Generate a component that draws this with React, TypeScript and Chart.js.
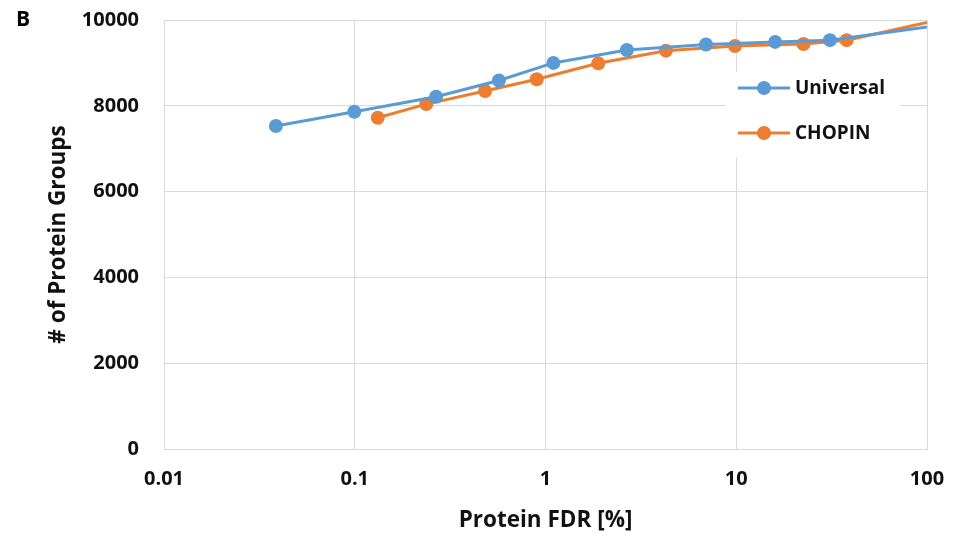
import React, { useEffect, useRef } from "react";
import { Chart, registerables } from "chart.js";

Chart.register(...registerables);

const universalFdr = [0.0386, 0.0995, 0.267, 0.57, 1.1, 2.67, 6.94, 16.0, 31.0, 100];
const universalCount = [7530, 7860, 8210, 8590, 9000, 9300, 9430, 9490, 9530, 9840];
const chopinFdr = [0.132, 0.237, 0.482, 0.9, 1.89, 4.28, 9.85, 22.5, 37.9, 100];
const chopinCount = [7720, 8040, 8345, 8620, 8990, 9285, 9395, 9440, 9530, 9940];
const xTicks = [0.01, 0.1, 1, 10, 100];
const xTickLabels = ["0.01", "0.1", "1", "10", "100"];
const seriesNames = ["Universal", "CHOPIN"];
const colors = ["#5b9bd5", "#ed7d31"];

const FONT = "'Open Sans', Lato, sans-serif";
const TEXT = "#111111";

const legendPlugin = {
  id: "insideLegend",
  afterDraw(chart: any) {
    const ctx = chart.ctx;
    ctx.save();
    ctx.fillStyle = "#ffffff";
    ctx.fillRect(725, 72, 175, 85);
    const rows = [88, 133];
    rows.forEach((y, i) => {
      ctx.strokeStyle = colors[i];
      ctx.lineWidth = 3;
      ctx.beginPath();
      ctx.moveTo(738, y);
      ctx.lineTo(790, y);
      ctx.stroke();
      ctx.fillStyle = colors[i];
      ctx.beginPath();
      ctx.arc(764, y, 7, 0, Math.PI * 2);
      ctx.fill();
      ctx.fillStyle = TEXT;
      ctx.font = `bold 19px ${FONT}`;
      ctx.textBaseline = "middle";
      ctx.textAlign = "left";
      ctx.fillText(seriesNames[i], 795, y + 1);
    });
    ctx.font = `bold 21px ${FONT}`;
    ctx.fillStyle = "#000";
    ctx.textBaseline = "middle";
    ctx.fillText("B", 16, 20);
    ctx.restore();
  },
};

export default function App() {
  const ref = useRef<HTMLCanvasElement>(null);
  useEffect(() => {
    document.body.style.margin = "0";
    const mk = (xs: number[], ys: number[]) => xs.map((x, i) => ({ x, y: ys[i] }));
    const radii = (n: number) => Array.from({ length: n }, (_, i) => (i === n - 1 ? 0 : 7));
    const chart = new Chart(ref.current!, {
      type: "line",
      data: {
        datasets: [
          {
            label: seriesNames[0],
            data: mk(universalFdr, universalCount),
            borderColor: colors[0],
            backgroundColor: colors[0],
            borderWidth: 3,
            pointRadius: radii(universalFdr.length),
            pointBorderWidth: 0,
            tension: 0,
          },
          {
            label: seriesNames[1],
            data: mk(chopinFdr, chopinCount),
            borderColor: colors[1],
            backgroundColor: colors[1],
            borderWidth: 3,
            pointRadius: radii(chopinFdr.length),
            pointBorderWidth: 0,
            tension: 0,
          },
        ],
      },
      options: {
        animation: false,
        responsive: false,
        layout: { padding: { left: 0, right: 33, top: 20, bottom: 0 } },
        plugins: { legend: { display: false }, tooltip: { enabled: false } },
        scales: {
          x: {
            type: "logarithmic",
            min: 0.01,
            max: 100,
            afterBuildTicks: (scale: any) => {
              scale.ticks = xTicks.map((v) => ({ value: v }));
            },
            afterFit: (scale: any) => {
              scale.height = 88;
              scale.paddingLeft = 0;
              scale.paddingRight = 0;
            },
            ticks: {
              autoSkip: false,
              maxRotation: 0,
              padding: 18,
              color: TEXT,
              font: { family: FONT, size: 20, weight: "bold" },
              callback: (v: any) => {
                const idx = xTicks.indexOf(Number(v));
                return idx >= 0 ? xTickLabels[idx] : "";
              },
            },
            grid: { color: "#d9d9d9", lineWidth: 1, drawTicks: false },
            border: { color: "#d9d9d9" },
            title: {
              display: true,
              text: "Protein FDR [%]",
              color: TEXT,
              font: { family: FONT, size: 22.5, weight: "bold" },
              padding: { top: 0, bottom: 3 },
            },
          },
          y: {
            min: 0,
            max: 10000,
            afterFit: (scale: any) => {
              scale.width = 164;
              scale.paddingTop = 0;
              scale.paddingBottom = 0;
            },
            ticks: {
              stepSize: 2000,
              padding: 25,
              color: TEXT,
              font: { family: FONT, size: 20, weight: "bold" },
              callback: (v: any) => String(v),
            },
            grid: { color: "#d9d9d9", lineWidth: 1, drawTicks: false },
            border: { color: "#d9d9d9" },
            title: {
              display: true,
              text: "# of Protein Groups",
              color: TEXT,
              font: { family: FONT, size: 22.5, weight: "bold" },
              padding: { top: 45, bottom: 0 },
            },
          },
        },
      },
      plugins: [legendPlugin],
    } as any);
    return () => chart.destroy();
  }, []);
  return (
    <div style={{ position: "absolute", left: 0, top: 0, width: 960, height: 537, background: "#fff" }}>
      <canvas ref={ref} width={960} height={537} />
    </div>
  );
}
